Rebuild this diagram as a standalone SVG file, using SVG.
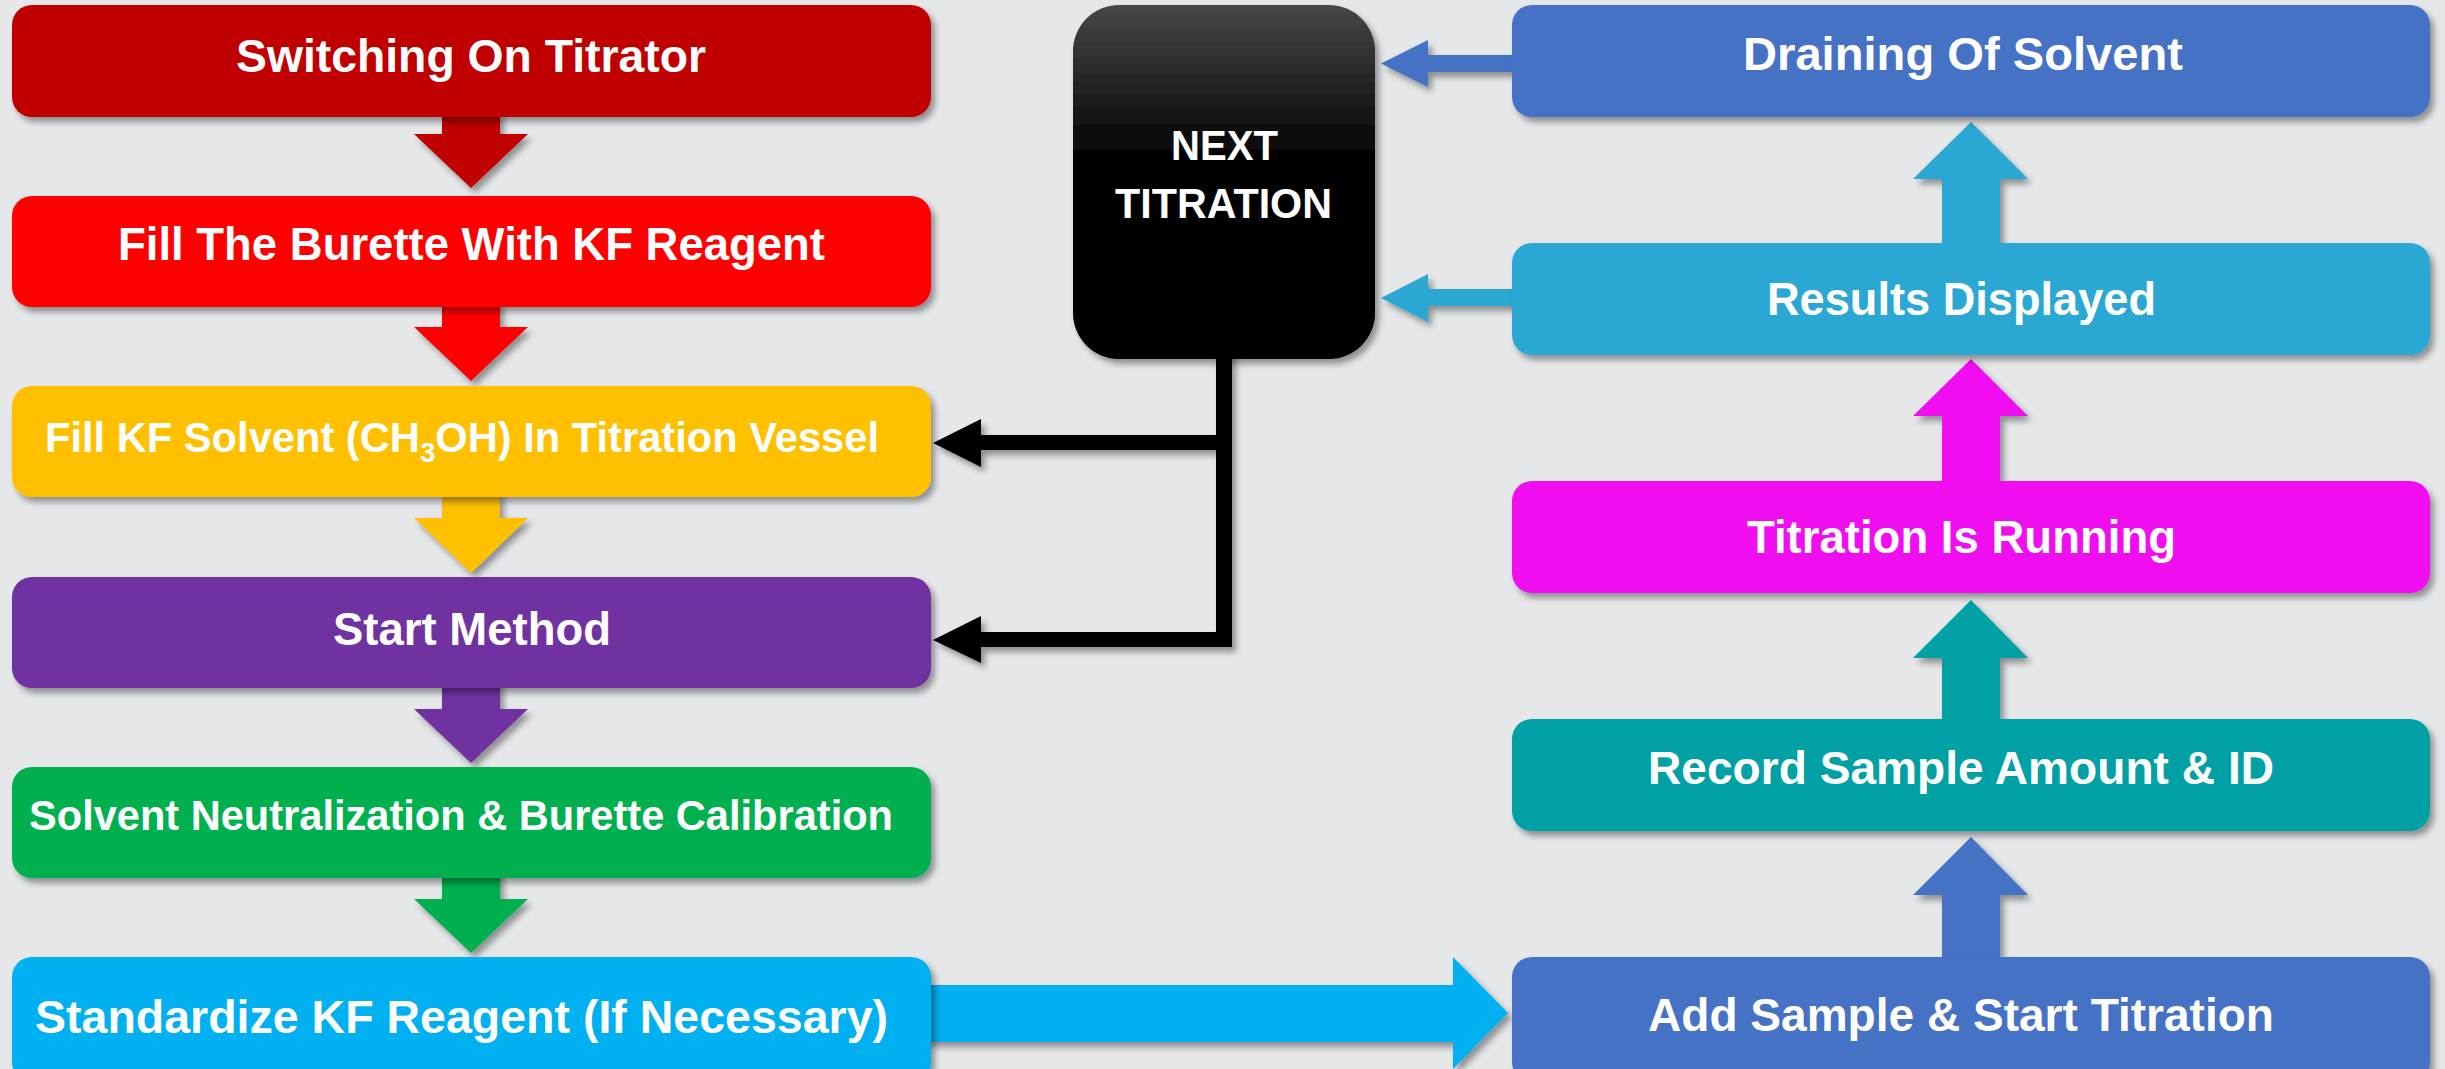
<svg xmlns="http://www.w3.org/2000/svg" width="2445" height="1069" viewBox="0 0 2445 1069">
  <defs>
    <filter id="shadow" x="-10%" y="-10%" width="130%" height="140%">
      <feDropShadow dx="4" dy="5" stdDeviation="3" flood-color="#000" flood-opacity="0.38"/>
    </filter>
    <linearGradient id="blackFill" x1="0" y1="0" x2="0" y2="1">
      <stop offset="0" stop-color="#474747"/>
      <stop offset="0.45" stop-color="#000"/>
      <stop offset="1" stop-color="#000"/>
    </linearGradient>
    <style>
      .box { filter: url(#shadow); }
      .arrow { filter: url(#shadow); }
      .label { font-family: "Liberation Sans", Arial, sans-serif; font-weight: bold; fill: #fff; font-size: 46px; }
      .small { font-size: 42px; }
    </style>
  </defs>

  <rect width="2445" height="1069" fill="#E6E7E9"/>

  <!-- connectors: block arrows and the return lines -->
  <g id="connectors">
    <!-- left column, downward -->
    <polygon class="arrow" fill="#C00000" points="442,110 500,110 500,134 528,134 471,188 414,134 442,134"/>
    <polygon class="arrow" fill="#FF0000" points="442,300 500,300 500,327 528,327 471,381 414,327 442,327"/>
    <polygon class="arrow" fill="#FFC000" points="442,490 500,490 500,518 528,518 471,573 414,518 442,518"/>
    <polygon class="arrow" fill="#7030A0" points="442,680 500,680 500,709 528,709 471,763 414,709 442,709"/>
    <polygon class="arrow" fill="#00B050" points="442,870 500,870 500,899 528,899 471,953 414,899 442,899"/>
    <!-- bottom, across to the right column -->
    <polygon class="arrow" fill="#00B0F0" points="925,985 1453,985 1453,957 1508,1013 1453,1069 1453,1042 925,1042"/>
    <!-- right column, upward -->
    <polygon class="arrow" fill="#4472C4" points="1942,962 1942,895 1913,895 1971,837 2028,895 2000,895 2000,962"/>
    <polygon class="arrow" fill="#05A0A4" points="1942,724 1942,658 1913,658 1971,600 2028,658 2000,658 2000,724"/>
    <polygon class="arrow" fill="#F011F0" points="1942,486 1942,416 1913,416 1971,359 2028,416 2000,416 2000,486"/>
    <polygon class="arrow" fill="#29A7D2" points="1942,248 1942,179 1913,179 1971,122 2028,179 2000,179 2000,248"/>
    <!-- into NEXT TITRATION -->
    <polygon class="arrow" fill="#4472C4" points="1518,55 1428,55 1428,40 1381,63.5 1428,87 1428,72 1518,72"/>
    <polygon class="arrow" fill="#29A7D2" points="1518,289 1428,289 1428,274 1381,298 1428,322 1428,306 1518,306"/>
    <!-- NEXT TITRATION back to the left column -->
    <path class="arrow" fill="#000" d="M1216,350 L1232,350 L1232,647 L981,647 L981,663 L933,640 L981,616 L981,632 L1216,632 L1216,450 L981,450 L981,467 L933,443 L981,419 L981,435 L1216,435 Z"/>
  </g>

  <!-- left column -->
  <g id="switch-on">
    <rect class="box" x="12" y="5" width="919" height="112" rx="20" fill="#C00000"/>
    <text class="label" x="236" y="72" textLength="470" lengthAdjust="spacingAndGlyphs">Switching On Titrator</text>
  </g>
  <g id="fill-burette">
    <rect class="box" x="12" y="196" width="919" height="111" rx="20" fill="#FF0000"/>
    <text class="label" x="118" y="260" textLength="707" lengthAdjust="spacingAndGlyphs">Fill The Burette With KF Reagent</text>
  </g>
  <g id="fill-solvent">
    <rect class="box" x="12" y="386" width="919" height="111" rx="20" fill="#FFC000"/>
    <text class="label small" x="45" y="452" textLength="834" lengthAdjust="spacingAndGlyphs">Fill KF Solvent (CH<tspan dy="10" font-size="28">3</tspan><tspan dy="-10">OH) In Titration Vessel</tspan></text>
  </g>
  <g id="start-method">
    <rect class="box" x="12" y="577" width="919" height="111" rx="20" fill="#7030A0"/>
    <text class="label" x="333" y="645" textLength="278" lengthAdjust="spacingAndGlyphs">Start Method</text>
  </g>
  <g id="neutralization">
    <rect class="box" x="12" y="767" width="919" height="111" rx="20" fill="#00B050"/>
    <text class="label small" x="29" y="830" textLength="864" lengthAdjust="spacingAndGlyphs">Solvent Neutralization &amp; Burette Calibration</text>
  </g>
  <g id="standardize">
    <rect class="box" x="12" y="957" width="919" height="125" rx="20" fill="#00B0F0"/>
    <text class="label" x="35" y="1033" textLength="853" lengthAdjust="spacingAndGlyphs">Standardize KF Reagent (If Necessary)</text>
  </g>

  <!-- loop-back node -->
  <g id="next-titration">
    <rect class="box" x="1073" y="5" width="302" height="354" rx="46" fill="url(#blackFill)"/>
    <text class="label small" x="1171" y="160" textLength="107" lengthAdjust="spacingAndGlyphs">NEXT</text>
    <text class="label small" x="1115" y="218" textLength="217" lengthAdjust="spacingAndGlyphs">TITRATION</text>
  </g>

  <!-- right column -->
  <g id="draining">
    <rect class="box" x="1512" y="5" width="918" height="112" rx="20" fill="#4472C4"/>
    <text class="label" x="1743" y="70" textLength="440" lengthAdjust="spacingAndGlyphs">Draining Of Solvent</text>
  </g>
  <g id="results">
    <rect class="box" x="1512" y="243" width="918" height="112" rx="20" fill="#29A7D2"/>
    <text class="label" x="1767" y="315" textLength="389" lengthAdjust="spacingAndGlyphs">Results Displayed</text>
  </g>
  <g id="running">
    <rect class="box" x="1512" y="481" width="918" height="112" rx="20" fill="#F011F0"/>
    <text class="label" x="1747" y="553" textLength="429" lengthAdjust="spacingAndGlyphs">Titration Is Running</text>
  </g>
  <g id="record">
    <rect class="box" x="1512" y="719" width="918" height="112" rx="20" fill="#05A0A4"/>
    <text class="label" x="1648" y="784" textLength="626" lengthAdjust="spacingAndGlyphs">Record Sample Amount &amp; ID</text>
  </g>
  <g id="add-sample">
    <rect class="box" x="1512" y="957" width="918" height="125" rx="20" fill="#4472C4"/>
    <text class="label" x="1648" y="1031" textLength="626" lengthAdjust="spacingAndGlyphs">Add Sample &amp; Start Titration</text>
  </g>
</svg>
